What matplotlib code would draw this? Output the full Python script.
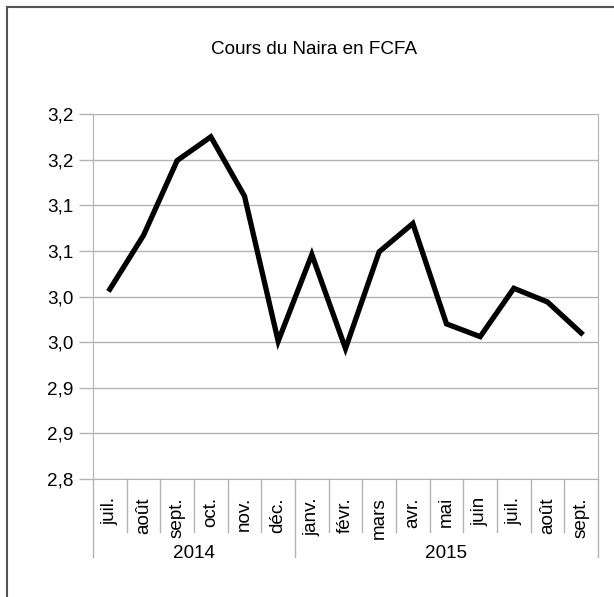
import matplotlib
matplotlib.use("Agg")
import matplotlib.pyplot as plt
from matplotlib.transforms import blended_transform_factory
from matplotlib.lines import Line2D

plt.rcParams['font.family'] = ['Liberation Sans', 'DejaVu Sans']

title = "Cours du Naira en FCFA"
months = ["juil.", "août", "sept.", "oct.", "nov.", "déc.",
          "janv.", "févr.", "mars", "avr.", "mai", "juin", "juil.", "août", "sept."]
years = ["2014", "2015"]
year_counts = [6, 9]
values = [3.008, 3.067, 3.149, 3.175, 3.110, 2.951, 3.046, 2.943, 3.049,
          3.080, 2.970, 2.956, 3.009, 2.994, 2.960]
yticks = [2.80, 2.85, 2.90, 2.95, 3.00, 3.05, 3.10, 3.15, 3.20]
ytick_labels = ["2,8", "2,9", "2,9", "3,0", "3,0", "3,1", "3,1", "3,2", "3,2"]

FS = 13.6
W, H = 614, 597
fig = plt.figure(figsize=(W / 100, H / 100), dpi=100)
ax = fig.add_axes([93 / W, 1 - 479 / H, (598 - 93) / W, (479 - 114) / H])

grid_c = "#b3b3b3"
x = list(range(len(values)))
ax.plot(x, values, color="black", lw=3.8, solid_joinstyle="miter", zorder=3)

ax.set_xlim(-0.5, len(values) - 0.5)
ax.set_ylim(yticks[0], yticks[-1])
ax.set_yticks(yticks)
ax.set_yticklabels(ytick_labels, fontsize=FS)
ax.yaxis.grid(True, color=grid_c, lw=1)
ax.tick_params(axis="y", length=10, color=grid_c, width=1, pad=4)
ax.set_xticks(x)
ax.set_xticklabels(months, rotation=90, fontsize=FS)
ax.tick_params(axis="x", length=0, pad=13)
ax.spines["top"].set_visible(False)
for s in ["left", "bottom", "right"]:
    ax.spines[s].set_color(grid_c)

# category separators
trans = blended_transform_factory(ax.transData, ax.transAxes)
hpx = 479 - 114
month_drop = -53 / hpx
year_drop = -78 / hpx
boundaries = [i - 0.5 for i in range(len(values) + 1)]
year_bounds = [-0.5]
for c in year_counts:
    year_bounds.append(year_bounds[-1] + c)
for b in boundaries:
    d = year_drop if b in year_bounds else month_drop
    ax.add_line(Line2D([b, b], [0, d], transform=trans, color=grid_c, lw=1, clip_on=False))
for i, yr in enumerate(years):
    cx = (year_bounds[i] + year_bounds[i + 1]) / 2
    ax.text(cx, -74 / hpx, yr, transform=trans, ha="center", va="center", fontsize=FS)

fig.text(314 / W, 1 - 50 / H, title, ha="center", va="center", fontsize=FS)

# outer border (only top and left visible in the image)
fig.add_artist(Line2D([7 / W, 7 / W], [1 - 7 / H, 0], transform=fig.transFigure, color="#555555", lw=1.5))
fig.add_artist(Line2D([7 / W, 1], [1 - 7 / H, 1 - 7 / H], transform=fig.transFigure, color="#555555", lw=1.5))

fig.savefig("out.png", dpi=100)
